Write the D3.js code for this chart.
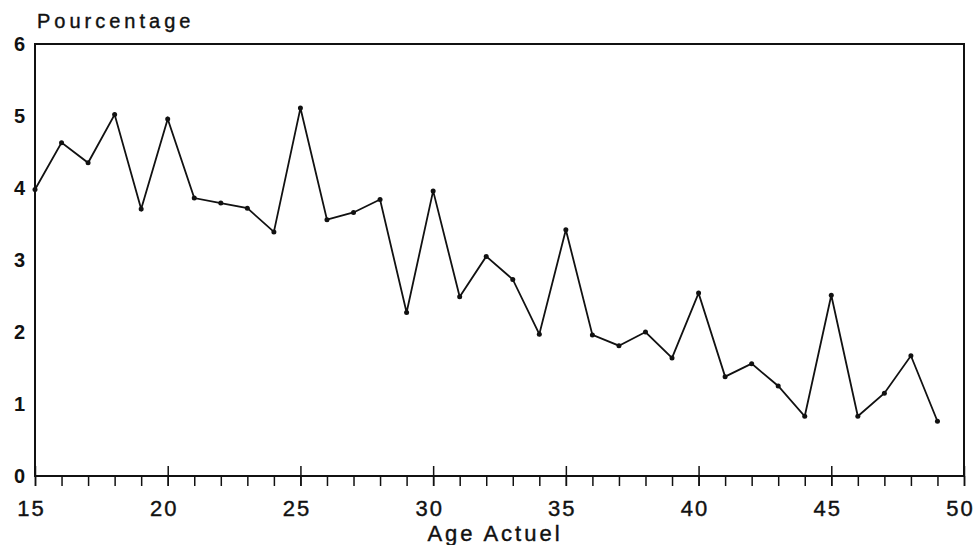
<!DOCTYPE html>
<html>
<head>
<meta charset="utf-8">
<script src="https://cdn.jsdelivr.net/npm/d3@7"></script>
<style>
  body { margin: 0; background: #fff; }
  svg text { font-family: "Liberation Sans", Arial, sans-serif; fill: #111; }
</style>
</head>
<body>
<script>
// data
var ages = [15, 16, 17, 18, 19, 20, 21, 22, 23, 24, 25, 26, 27, 28, 29, 30, 31,
            32, 33, 34, 35, 36, 37, 38, 39, 40, 41, 42, 43, 44, 45, 46, 47, 48, 49];
var pct = [3.98, 4.63, 4.35, 5.02, 3.71, 4.96, 3.86, 3.79, 3.72, 3.39, 5.11, 3.56,
           3.66, 3.84, 2.27, 3.96, 2.49, 3.05, 2.73, 1.97, 3.42, 1.96, 1.81, 2.0,
           1.64, 2.54, 1.38, 1.56, 1.25, 0.83, 2.51, 0.83, 1.15, 1.67, 0.76];
var xTicks = [15, 20, 25, 30, 35, 40, 45, 50];
var yTicks = [0, 1, 2, 3, 4, 5, 6];

function drawChart() {
    var W = 978, H = 545;
    var mLeft = 35, mRight = 964, mTop = 44, mBottom = 476;

    var svg = d3.select('body').append('svg').attr('width', W).attr('height', H);

    var x = d3.scaleLinear().domain([15, 50]).range([mLeft, mRight]);
    var y = d3.scaleLinear().domain([0, 6]).range([mBottom, mTop]);

    // frame
    svg.append('rect')
        .attr('x', mLeft).attr('y', mTop)
        .attr('width', mRight - mLeft).attr('height', mBottom - mTop)
        .attr('fill', 'none').attr('stroke', '#111').attr('stroke-width', 2);

    // minor ticks every year, pointing down
    var minor = svg.append('g').attr('transform', 'translate(0,' + mBottom + ')')
        .call(d3.axisBottom(x).tickValues(d3.range(15, 51)).tickSize(10).tickFormat(''));
    minor.select('.domain').remove();
    minor.selectAll('line').attr('stroke', '#111').attr('stroke-width', 1.5);

    // major ticks crossing the axis, with labels
    var major = svg.append('g').attr('transform', 'translate(0,' + mBottom + ')')
        .call(d3.axisBottom(x).tickValues(xTicks).tickSize(10).tickPadding(14).tickFormat(d3.format('d')));
    major.select('.domain').remove();
    major.selectAll('line').attr('y1', -10).attr('stroke', '#111').attr('stroke-width', 1.5);
    major.selectAll('text')
        .attr('font-size', 22).attr('dx', -4).attr('dy', '0.71em')
        .style('letter-spacing', '2px').attr('fill', '#111')
        .attr('stroke', '#111').attr('stroke-width', 0.4);

    // y labels
    var yAx = svg.append('g').attr('transform', 'translate(' + mLeft + ',0)')
        .call(d3.axisLeft(y).tickValues(yTicks).tickSize(0).tickPadding(10).tickFormat(d3.format('d')));
    yAx.select('.domain').remove();
    yAx.selectAll('text')
        .attr('font-size', 20).attr('font-weight', 'bold').attr('fill', '#111');

    // titles
    svg.append('text').attr('x', 37).attr('y', 28)
        .attr('font-size', 20).style('letter-spacing', '4px')
        .attr('stroke', '#111').attr('stroke-width', 0.4)
        .text('Pourcentage');
    svg.append('text').attr('x', 495).attr('y', 541)
        .attr('text-anchor', 'middle').attr('font-size', 22).style('letter-spacing', '3px')
        .attr('stroke', '#111').attr('stroke-width', 0.4)
        .text('Age Actuel');

    // series
    var pts = ages.map(function (a, i) { return [a, pct[i]]; });
    var line = d3.line().x(function (d) { return x(d[0]); }).y(function (d) { return y(d[1]); });

    svg.append('path').datum(pts)
        .attr('d', line).attr('fill', 'none')
        .attr('stroke', '#111').attr('stroke-width', 1.8);

    svg.selectAll('circle.pt').data(pts).enter().append('circle')
        .attr('class', 'pt')
        .attr('cx', function (d) { return x(d[0]); })
        .attr('cy', function (d) { return y(d[1]); })
        .attr('r', 2.5).attr('fill', '#111');
}

drawChart();
</script>
</body>
</html>
